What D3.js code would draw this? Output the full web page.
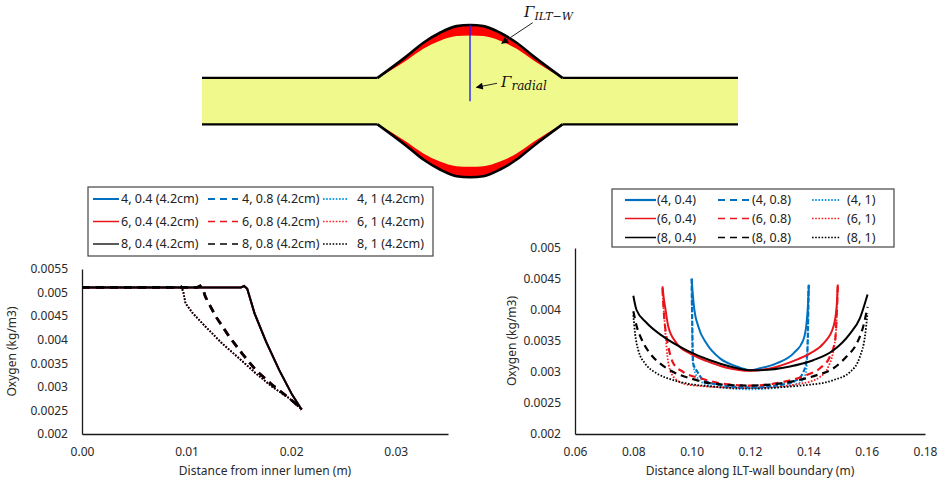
<!DOCTYPE html>
<html>
<head>
<meta charset="utf-8">
<script src="https://cdn.jsdelivr.net/npm/d3@7"></script>
<style>
  body { margin: 0; background: #fff; }
  svg { display: block; font-family: "Noto Sans", "Open Sans", sans-serif; }
</style>
</head>
<body>
<svg id="fig" width="941" height="480"></svg>
<script>
// ---- data ----
// left chart: oxygen along the radial line (blue/red/black overlap there)
var radialSolid = [[0, 0.00511], [0.0152, 0.00511], [0.0155, 0.00514], [0.0158, 0.00508], [0.0165, 0.00456], [0.0176, 0.00396], [0.01885, 0.00336], [0.0201, 0.00283], [0.021, 0.00252]];
var radialDashed = [[0, 0.00511], [0.0110, 0.00511], [0.0113, 0.00514], [0.0116, 0.00505], [0.0118, 0.00491], [0.0128, 0.00449], [0.0141, 0.00406], [0.0153, 0.00371], [0.0166, 0.00336], [0.0182, 0.00304], [0.0198, 0.00276], [0.0204, 0.00265], [0.021, 0.00252]];
var radialDotted = [[0, 0.00511], [0.0093, 0.00511], [0.0095, 0.00513], [0.0097, 0.00500], [0.0099, 0.00477], [0.0106, 0.00456], [0.0118, 0.00428], [0.0134, 0.00392], [0.0150, 0.00361], [0.0166, 0.00329], [0.0182, 0.00300], [0.0198, 0.00276], [0.021, 0.00252]];

// right chart: oxygen along the ILT-wall boundary
var wall_4_04 = [[0.1000, 0.00451], [0.1003, 0.00430], [0.1008, 0.00405], [0.1023, 0.00373], [0.1051, 0.00346], [0.1097, 0.00322], [0.1154, 0.00309], [0.1200, 0.00303], [0.1234, 0.00306], [0.1291, 0.00314], [0.1349, 0.00330], [0.1383, 0.00352], [0.1394, 0.00379], [0.1399, 0.00410], [0.1402, 0.00441]];
var wall_4_08 = [[0.1000, 0.00450], [0.1002, 0.00380], [0.1005, 0.00314], [0.1020, 0.00300], [0.1040, 0.00287], [0.1097, 0.00279], [0.1200, 0.00275], [0.1303, 0.00279], [0.1360, 0.00287], [0.1383, 0.00300], [0.1394, 0.00319], [0.1398, 0.00352], [0.1401, 0.00440]];
var wall_4_1 = [[0.1000, 0.00440], [0.1003, 0.00320], [0.1015, 0.00295], [0.1040, 0.00282], [0.1100, 0.00275], [0.1200, 0.00272], [0.1300, 0.00275], [0.1370, 0.00283], [0.1390, 0.00296], [0.1397, 0.00330], [0.1400, 0.00430]];
var wall_6_04 = [[0.0900, 0.00438], [0.0904, 0.00420], [0.0909, 0.00405], [0.0920, 0.00373], [0.0949, 0.00346], [0.0994, 0.00330], [0.1050, 0.00318], [0.1120, 0.00307], [0.1200, 0.00302], [0.1280, 0.00307], [0.1350, 0.00318], [0.1406, 0.00330], [0.1452, 0.00346], [0.1486, 0.00373], [0.1497, 0.00405], [0.1501, 0.00441]];
var wall_6_08 = [[0.0900, 0.00435], [0.0904, 0.00400], [0.0909, 0.00373], [0.0920, 0.00341], [0.0937, 0.00314], [0.0971, 0.00300], [0.1029, 0.00290], [0.1097, 0.00282], [0.1200, 0.00278], [0.1314, 0.00284], [0.1394, 0.00295], [0.1440, 0.00306], [0.1474, 0.00325], [0.1492, 0.00352], [0.1498, 0.00400], [0.1501, 0.00438]];
var wall_6_1 = [[0.0900, 0.00430], [0.0905, 0.00395], [0.0911, 0.00357], [0.0917, 0.00325], [0.0926, 0.00303], [0.0949, 0.00287], [0.0994, 0.00279], [0.1200, 0.00274], [0.1383, 0.00282], [0.1440, 0.00292], [0.1469, 0.00309], [0.1486, 0.00335], [0.1495, 0.00368], [0.1500, 0.00430]];
var wall_8_04 = [[0.0800, 0.00423], [0.0811, 0.00400], [0.0846, 0.00379], [0.0903, 0.00357], [0.0983, 0.00335], [0.1063, 0.00319], [0.1131, 0.00309], [0.1200, 0.00303], [0.1234, 0.00303], [0.1337, 0.00309], [0.1417, 0.00319], [0.1486, 0.00335], [0.1543, 0.00362], [0.1577, 0.00387], [0.1603, 0.00425]];
var wall_8_08 = [[0.0800, 0.00398], [0.0812, 0.00373], [0.0829, 0.00352], [0.0857, 0.00330], [0.0891, 0.00314], [0.0937, 0.00300], [0.0994, 0.00290], [0.1063, 0.00282], [0.1200, 0.00278], [0.1337, 0.00284], [0.1429, 0.00295], [0.1486, 0.00306], [0.1531, 0.00325], [0.1566, 0.00346], [0.1588, 0.00373], [0.1603, 0.00405]];
var wall_8_1 = [[0.0800, 0.00392], [0.0806, 0.00362], [0.0817, 0.00335], [0.0840, 0.00314], [0.0880, 0.00298], [0.0937, 0.00287], [0.1017, 0.00279], [0.1200, 0.00274], [0.1394, 0.00279], [0.1486, 0.00287], [0.1543, 0.00300], [0.1577, 0.00325], [0.1594, 0.00357], [0.1603, 0.00395]];

var leftNames = ["4, 0.4 (4.2cm)", "4, 0.8 (4.2cm)", "4, 1 (4.2cm)", "6, 0.4 (4.2cm)", "6, 0.8 (4.2cm)", "6, 1 (4.2cm)", "8, 0.4 (4.2cm)", "8, 0.8 (4.2cm)", "8, 1 (4.2cm)"];
var rightNames = ["(4, 0.4)", "(4, 0.8)", "(4, 1)", "(6, 0.4)", "(6, 0.8)", "(6, 1)", "(8, 0.4)", "(8, 0.8)", "(8, 1)"];

var leftXTicks = [0, 0.01, 0.02, 0.03];
var leftYTicks = [0.002, 0.0025, 0.003, 0.0035, 0.004, 0.0045, 0.005, 0.0055];
var rightXTicks = [0.06, 0.08, 0.10, 0.12, 0.14, 0.16, 0.18];
var rightYTicks = [0.002, 0.0025, 0.003, 0.0035, 0.004, 0.0045, 0.005];

// aneurysm sketch profile: axial position, outer radius, inner (lumen) radius
var profZ = [-0.345, -0.236, -0.174, -0.112, -0.050, 0, 0.050, 0.112, 0.174, 0.236, 0.345];
var profOuter = [0.305, 0.591, 0.767, 0.898, 0.985, 1.0, 0.985, 0.898, 0.767, 0.591, 0.305];
var profInner = [0.300, 0.538, 0.688, 0.793, 0.854, 0.863, 0.854, 0.793, 0.688, 0.538, 0.300];
var tubeR = 0.305;

// ---- styles ----
var colors = ["#0070C0", "#E8141B", "#000000"];
var dottedColors = ["#1A9BE6", "#FF2020", "#000000"];

var svg = d3.select("#fig");

// ================= sketch =================
var zS = d3.scaleLinear().domain([-1, 1]).range([202, 738]);
var rS = d3.scaleLinear().domain([-1, 1]).range([177.3, 25]);
var prof = profZ.map(function(z, i) { return {z: z, o: profOuter[i], n: profInner[i]}; });
var sk = svg.append("g");

sk.append("path").datum(prof)
  .attr("d", d3.area().curve(d3.curveMonotoneX)
    .x(function(d) { return zS(d.z); })
    .y0(function(d) { return rS(-d.o); })
    .y1(function(d) { return rS(d.o); }))
  .attr("fill", "#FF0000");
sk.append("path").datum(prof)
  .attr("d", d3.area().curve(d3.curveMonotoneX)
    .x(function(d) { return zS(d.z); })
    .y0(function(d) { return rS(-d.n); })
    .y1(function(d) { return rS(d.n); }))
  .attr("fill", "#F0FA8C");
// straight tube on top so no seam shows at the bulge ends
sk.append("rect")
  .attr("x", zS(-1)).attr("y", rS(tubeR))
  .attr("width", zS(1) - zS(-1)).attr("height", rS(-tubeR) - rS(tubeR))
  .attr("fill", "#F0FA8C");

[1, -1].forEach(function(s) {
  sk.append("path").datum(prof)
    .attr("d", d3.line().curve(d3.curveMonotoneX)
      .x(function(d) { return zS(d.z); })
      .y(function(d) { return rS(s * d.o); }))
    .attr("fill", "none").attr("stroke", "#000").attr("stroke-width", 2.6);
  [[-1, -0.345], [0.345, 1]].forEach(function(seg) {
    sk.append("line")
      .attr("x1", zS(seg[0])).attr("x2", zS(seg[1]))
      .attr("y1", rS(s * tubeR)).attr("y2", rS(s * tubeR))
      .attr("stroke", "#000").attr("stroke-width", 2.2);
  });
});

sk.append("line")
  .attr("x1", zS(0)).attr("x2", zS(0))
  .attr("y1", rS(1)).attr("y2", rS(0))
  .attr("stroke", "#2020FF").attr("stroke-width", 1.4);

svg.append("defs").append("marker")
  .attr("id", "arr").attr("viewBox", "0 0 10 10")
  .attr("refX", 9).attr("refY", 5)
  .attr("markerWidth", 9).attr("markerHeight", 7)
  .attr("markerUnits", "userSpaceOnUse")
  .attr("orient", "auto")
  .append("path").attr("d", "M0,0L10,5L0,10z").attr("fill", "#000");

sk.append("line")
  .attr("x1", 532.7).attr("y1", 22.7).attr("x2", 501.7).attr("y2", 43.3)
  .attr("stroke", "#222").attr("stroke-width", 1).attr("marker-end", "url(#arr)");
sk.append("line")
  .attr("x1", 497).attr("y1", 83.3).attr("x2", 476.5).attr("y2", 87.3)
  .attr("stroke", "#222").attr("stroke-width", 1).attr("marker-end", "url(#arr)");

var g1 = sk.append("text").attr("x", 524).attr("y", 17)
  .attr("font-family", "DejaVu Serif, Liberation Serif, serif")
  .attr("font-style", "italic").attr("fill", "#111");
g1.append("tspan").attr("font-size", 15).text("Γ");
g1.append("tspan").attr("font-size", 11).attr("dy", 3).text("ILT−W");

var g2 = sk.append("text").attr("x", 501).attr("y", 87)
  .attr("font-family", "DejaVu Serif, Liberation Serif, serif")
  .attr("font-style", "italic").attr("fill", "#111");
g2.append("tspan").attr("font-size", 15).text("Γ");
g2.append("tspan").attr("font-size", 12).attr("dy", 3).text("radial");

// ================= charts =================
var lineStyles = {
  solid: {dash: null, w: 2},
  dashed: {dash: "7,5", w: 2.2},
  dotted: {dash: "1.6,1.6", w: 1.8}
};

function styleFor(i) {
  var col = i % 3;
  var row = Math.floor(i / 3);
  var kind = ["solid", "dashed", "dotted"][col];
  return {kind: kind, color: kind === "dotted" ? dottedColors[row] : colors[row]};
}

function drawAxes(g, x, y, xt, yt, xfmt, title, ytitleX, xtitleY) {
  var xa = g.append("g").attr("transform", "translate(0," + y.range()[0] + ")")
    .call(d3.axisBottom(x).tickValues(xt).tickSize(0).tickPadding(13).tickFormat(xfmt));
  var ya = g.append("g").attr("transform", "translate(" + x.range()[0] + ",0)")
    .call(d3.axisLeft(y).tickValues(yt).tickSize(0).tickPadding(14).tickFormat(function(d) { return String(d); }));
  [xa, ya].forEach(function(a) {
    a.select(".domain").attr("stroke", "#1a1a1a").attr("stroke-width", 1.3);
    a.selectAll("text").attr("font-family", "Noto Sans, sans-serif").attr("font-size", 12).attr("fill", "#2a2a2a");
  });
  g.append("text")
    .attr("x", (x.range()[0] + x.range()[1]) / 2).attr("y", xtitleY)
    .attr("text-anchor", "middle").attr("font-size", 12).attr("fill", "#2a2a2a")
    .text(title);
  g.append("text")
    .attr("transform", "translate(" + ytitleX + "," + (y.range()[0] + y.range()[1]) / 2 + ") rotate(-90)")
    .attr("text-anchor", "middle").attr("dy", "0.35em")
    .attr("font-size", 12).attr("fill", "#2a2a2a")
    .text("Oxygen (kg/m3)");
}

function drawLegend(g, names, box, rows, lineX, textX, sampleW) {
  g.append("rect")
    .attr("x", box[0]).attr("y", box[1]).attr("width", box[2] - box[0]).attr("height", box[3] - box[1])
    .attr("fill", "#fff").attr("stroke", "#444").attr("stroke-width", 1.2);
  names.forEach(function(n, i) {
    var st = styleFor(i);
    var col = i % 3, row = Math.floor(i / 3);
    var ls = lineStyles[st.kind];
    g.append("line")
      .attr("x1", lineX[col][0]).attr("x2", lineX[col][1])
      .attr("y1", rows[row]).attr("y2", rows[row])
      .attr("stroke", st.color).attr("stroke-width", sampleW[row])
      .attr("stroke-dasharray", ls.dash);
    g.append("text")
      .attr("x", textX[col]).attr("y", rows[row]).attr("dy", "0.35em")
      .attr("font-size", 12.5).attr("fill", "#222")
      .text(n);
  });
}

// ---- left chart ----
var xL = d3.scaleLinear().domain([0, 0.035]).range([82, 448]);
var yL = d3.scaleLinear().domain([0.002, 0.0055]).range([434, 269]);
var gl = svg.append("g");
drawAxes(gl, xL, yL, leftXTicks, leftYTicks, d3.format(".2f"), "Distance from inner lumen (m)", 12, 475);

var radialByStyle = [radialSolid, radialDashed, radialDotted];
var lineL = d3.line().x(function(d) { return xL(d[0]); }).y(function(d) { return yL(d[1]); });
leftNames.forEach(function(n, i) {
  var st = styleFor(i);
  var ls = lineStyles[st.kind];
  gl.append("path").datum(radialByStyle[i % 3])
    .attr("d", lineL)
    .attr("fill", "none").attr("stroke", st.color)
    .attr("stroke-width", st.kind === "dashed" ? 2.6 : ls.w)
    .attr("stroke-dasharray", st.kind === "dashed" ? "8,6" : ls.dash);
});
drawLegend(gl, leftNames, [88, 187, 433, 256], [199, 221.5, 244],
  [[93, 119], [208, 238], [323, 348]], [121, 242, 357], [2, 1.5, 1.3]);

// ---- right chart ----
var xR = d3.scaleLinear().domain([0.06, 0.18]).range([575, 925]);
var yR = d3.scaleLinear().domain([0.002, 0.005]).range([434, 248]);
var gr = svg.append("g");
drawAxes(gr, xR, yR, rightXTicks, rightYTicks, d3.format(".2f"), "Distance along ILT-wall boundary (m)", 512, 475);

var wallSeries = [wall_4_04, wall_4_08, wall_4_1, wall_6_04, wall_6_08, wall_6_1, wall_8_04, wall_8_08, wall_8_1];
var lineR = d3.line().curve(d3.curveMonotoneX)
  .x(function(d) { return xR(d[0]); }).y(function(d) { return yR(d[1]); });
[2, 1, 0].forEach(function(col) {
  [0, 1, 2].forEach(function(row) {
    var i = row * 3 + col;
    var st = styleFor(i);
    var ls = lineStyles[st.kind];
    gr.append("path").datum(wallSeries[i])
      .attr("d", lineR)
      .attr("fill", "none").attr("stroke", st.color)
      .attr("stroke-width", ls.w)
      .attr("stroke-dasharray", (st.kind === "dashed" && row === 0) ? "5,2" : ls.dash);
  });
});
drawLegend(gr, rightNames, [612, 189, 894, 247], [200, 218.5, 237.5],
  [[625, 656], [718, 750], [812, 840]], [657, 752, 847], [2.2, 1.5, 1.5]);
</script>
</body>
</html>
